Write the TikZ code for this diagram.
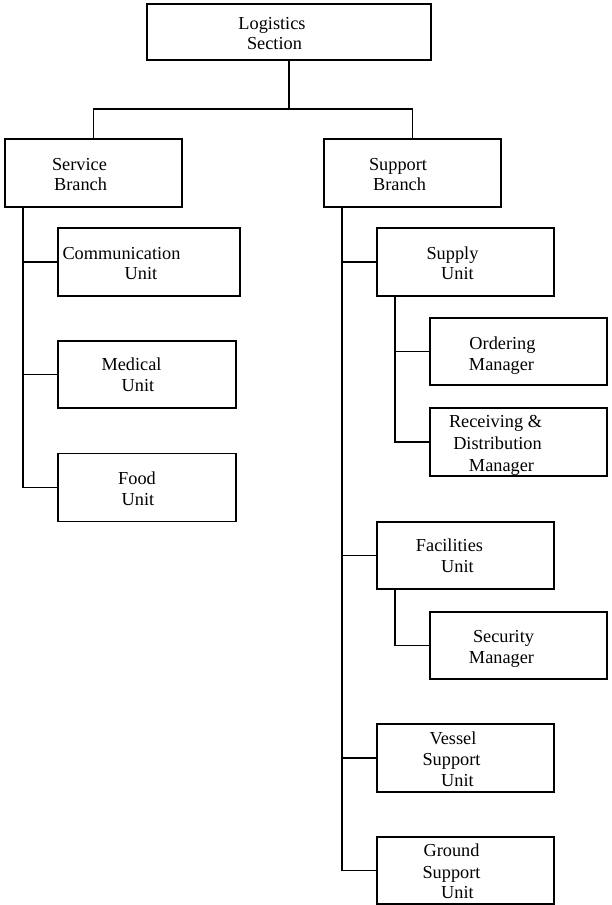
\documentclass[tikz,border=0pt]{standalone}
\usepackage{fontspec}
\setmainfont{Liberation Serif}
\begin{document}
\begin{tikzpicture}[x=1pt, y=-1pt,
  box/.style={draw=black, line width=1.2pt, fill=white, inner sep=0pt, outer sep=0pt,
              minimum width=177pt, minimum height=68pt},
  lbl/.style={anchor=base, inner sep=0pt, font=\fontsize{18.3}{21}\selectfont},
  wire/.style={draw=black, line width=1.2pt}]
\useasboundingbox (0,0) rectangle (611,905);

% boxes
\node[box, minimum width=284pt, minimum height=56pt] (log) at (289,32) {};
\node[box] (svc)    at (93.5,173)   {};
\node[box] (sup)    at (412.5,173)  {};
\node[box, minimum width=182pt] (comm) at (149,262) {};
\node[box, minimum width=178pt, minimum height=67pt] (med)  at (147,374.5) {};
\node[box, minimum width=178pt, minimum height=68pt] (food) at (147,487.5) {};
\node[box] (supply) at (465.5,262)  {};
\node[box, minimum height=67pt] (ord) at (518.5,351.5) {};
\node[box] (rec)    at (518.5,442)  {};
\node[box, minimum height=67pt] (fac) at (465.5,555.5) {};
\node[box, minimum height=67pt] (sec) at (518.5,645.5) {};
\node[box] (ves)    at (465.5,758)  {};
\node[box, minimum height=67pt] (gnd) at (465.5,870.5) {};

% labels, one node per printed line
\node[lbl] (log-a) at (272,29)   {Logistics};
\node[lbl] (log-b) at (274.5,49) {Section};
\node[lbl] (svc-a) at (79.5,170) {Service};
\node[lbl] (svc-b) at (80.5,190) {Branch};
\node[lbl] (sup-a) at (398,170)  {Support};
\node[lbl] (sup-b) at (399.5,190) {Branch};
\node[lbl] (comm-a) at (121.5,259) {Communication};
\node[lbl] (comm-b) at (141,279)   {Unit};
\node[lbl] (med-a) at (131.5,370) {Medical};
\node[lbl] (med-b) at (138,391)   {Unit};
\node[lbl] (food-a) at (137,484)  {Food};
\node[lbl] (food-b) at (138,505)  {Unit};
\node[lbl] (supply-a) at (452.5,259) {Supply};
\node[lbl] (supply-b) at (457.5,279) {Unit};
\node[lbl] (ord-a) at (502.5,349) {Ordering};
\node[lbl] (ord-b) at (501.5,370) {Manager};
\node[lbl] (rec-a) at (495.5,427) {Receiving \&};
\node[lbl] (rec-b) at (497.5,449) {Distribution};
\node[lbl] (rec-c) at (501.5,471) {Manager};
\node[lbl] (fac-a) at (449.5,551) {Facilities};
\node[lbl] (fac-b) at (457.5,572) {Unit};
\node[lbl] (sec-a) at (503.5,642) {Security};
\node[lbl] (sec-b) at (501.5,663) {Manager};
\node[lbl] (ves-a) at (453,744)   {Vessel};
\node[lbl] (ves-b) at (451.5,765) {Support};
\node[lbl] (ves-c) at (457.5,786) {Unit};
\node[lbl] (gnd-a) at (451.5,856) {Ground};
\node[lbl] (gnd-b) at (451.5,878) {Support};
\node[lbl] (gnd-c) at (457.5,898) {Unit};

% top-level bus
\coordinate (hub) at (289,109);
\draw[wire] (log.south) -- (hub);
\draw[wire] (svc.north) |- (hub) -| (sup.north);

% service branch spine
\coordinate (svcspine) at (23,207);
\draw[wire] (svcspine) |- (food.west);
\draw[wire] (svcspine |- comm.west) -- (comm.west);
\draw[wire] (svcspine |- med.west) -- (med.west);

% support branch spine
\coordinate (supspine) at (342,207);
\draw[wire] (supspine) |- (gnd.west);
\draw[wire] (supspine |- supply.west) -- (supply.west);
\draw[wire] (supspine |- fac.west) -- (fac.west);
\draw[wire] (supspine |- ves.west) -- (ves.west);

% supply unit spine
\coordinate (supplyspine) at (395,296);
\draw[wire] (supplyspine) |- (rec.west);
\draw[wire] (supplyspine |- ord.west) -- (ord.west);

% facilities unit spine
\coordinate (facspine) at (395,589);
\draw[wire] (facspine) |- (sec.west);
\end{tikzpicture}
\end{document}
